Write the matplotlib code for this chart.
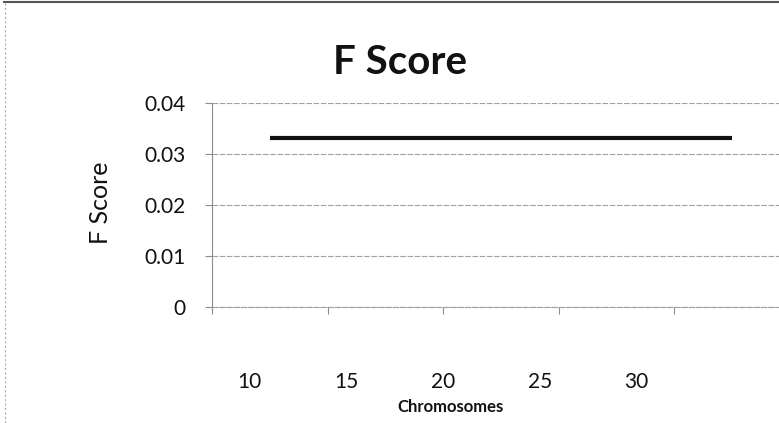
import matplotlib
matplotlib.use("Agg")
import matplotlib.pyplot as plt
from matplotlib.lines import Line2D

chromosomes = [10, 15, 20, 25, 30]
f_score = [0.0332, 0.0332, 0.0332, 0.0332, 0.0332]
y_ticks = [0, 0.01, 0.02, 0.03, 0.04]
y_tick_labels = ["0", "0.01", "0.02", "0.03", "0.04"]
title = "F Score"
x_label = "Chromosomes"
y_label = "F Score"

plt.rcParams['font.family'] = ['Lato', 'DejaVu Sans']

W, H = 779, 423
fig = plt.figure(figsize=(W / 100, H / 100), dpi=100)
fig.patch.set_facecolor('white')

left, right, bottom, top = 212, 779, 307, 103
ax = fig.add_axes([left / W, 1 - bottom / H, (right - left) / W, (bottom - top) / H])

ax.plot(chromosomes, f_score, color='#111111', lw=3.0, solid_capstyle='butt')

step = chromosomes[1] - chromosomes[0]
cat_px = 115.5          # pixel spacing of category slots
lab_px = 96.75          # pixel spacing of the printed labels
lab_off = -20.0         # first label sits left of the first point
x0 = chromosomes[0] - step / 2
ax.set_xlim(x0, x0 + step * (right - left) / cat_px)
ax.set_ylim(0, 0.04)

ax.set_yticks(y_ticks)
ax.set_yticklabels(y_tick_labels)
ax.set_xticks([c - step / 2 for c in chromosomes], minor=False)
ax.set_xticklabels([])

grid_style = dict(color='#a0a0a0', lw=0.8, ls=(0, (5, 1.5)))
ax.grid(axis='y', **grid_style)
ax.set_axisbelow(True)
for s in ['top', 'right']:
    ax.spines[s].set_visible(False)
ax.spines['bottom'].set_color('#a0a0a0')
ax.spines['bottom'].set_linewidth(0.8)
ax.spines['bottom'].set_linestyle((0, (5, 1.5)))
ax.spines['left'].set_color('#8c8c8c')
ax.spines['left'].set_linewidth(0.8)

ax.tick_params(axis='x', length=5, color='#8c8c8c', width=0.8)
ax.tick_params(axis='y', length=5, color='#8c8c8c', width=0.8, labelsize=15, pad=14, labelcolor='#111111')

c0 = chromosomes[0]
def to_lab(x):
    return c0 + ((x - c0) * cat_px / step - lab_off) * step / lab_px
def from_lab(v):
    return c0 + ((v - c0) * lab_px / step + lab_off) * step / cat_px

sec = ax.secondary_xaxis('bottom', functions=(to_lab, from_lab))
sec.set_xticks(chromosomes)
sec.set_xticklabels([str(c) for c in chromosomes])
sec.spines['bottom'].set_visible(False)
sec.tick_params(axis='x', length=0, labelsize=15, pad=47, colors='#111111')

fig.text(451 / W, 1 - 407 / H, x_label, fontsize=12, fontweight='bold', ha='center', va='center', color='#111111')
ax.set_ylabel(y_label, fontsize=18, color='#111111')
ax.yaxis.set_label_coords((100 - left) / (right - left), 0.51)
ax.yaxis.label.set_va('center')

fig.text(400 / W, 1 - 62 / H, title, fontsize=29, fontweight='bold', ha='center', va='center', color='#111111')

fig.add_artist(Line2D([4 / W, 1], [1 - 2 / H, 1 - 2 / H], transform=fig.transFigure, color='#555555', lw=1.5))
fig.add_artist(Line2D([5 / W, 5 / W], [0, 1 - 2 / H], transform=fig.transFigure, color='#aaaaaa', lw=0.8, ls=(0, (2, 2))))

fig.savefig('out.png', dpi=100, facecolor='white')
